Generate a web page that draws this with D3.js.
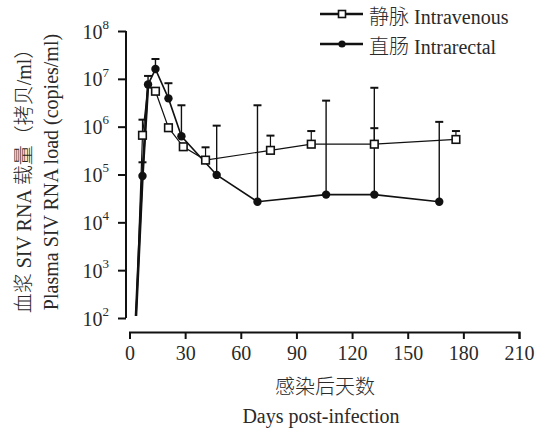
<!DOCTYPE html>
<html>
<head>
<meta charset="utf-8">
<script src="https://cdn.jsdelivr.net/npm/d3@7"></script>
<style>
  body { margin: 0; background: #fff; }
  svg text { font-family: "Liberation Serif", serif; fill: #2a2a2a; }
  svg tspan.cjk { font-family: "Noto Sans CJK SC", sans-serif; font-weight: 300; }
</style>
</head>
<body>
<svg id="chart" width="545" height="428"></svg>
<script>
// days post-infection and plasma viral load (copies/ml)
const ivDays  = [3.5, 7, 10, 14, 21, 29, 41, 76, 98, 132, 176];
const ivLoad  = [110, 6.6e5, 7e6, 5.5e6, 9.5e5, 3.8e5, 2.0e5, 3.2e5, 4.3e5, 4.3e5, 5.4e5];
const ivUpper = [null, 1.4e6, null, null, null, null, 3.7e5, 6.5e5, 8.1e5, 9.3e5, 8.1e5];

const irDays  = [3.5, 7, 10, 14, 21, 28, 47, 69, 106, 132, 167];
const irLoad  = [110, 9.3e4, 7.6e6, 1.6e7, 3.9e6, 6.3e5, 9.8e4, 2.7e4, 3.8e4, 3.8e4, 2.7e4];
const irUpper = [null, 1.8e5, 1.15e7, 2.6e7, 8.1e6, 2.8e6, 1.05e6, 2.8e6, 3.5e6, 6.5e6, 1.26e6];

const xTicks = [0, 30, 60, 90, 120, 150, 180, 210];
const yTicks = [1e2, 1e3, 1e4, 1e5, 1e6, 1e7, 1e8];

const svg = d3.select('#chart');
const x = d3.scaleLinear().domain([0, 210]).range([129.5, 519]);
const y = d3.scaleLog().domain([1e2, 1e8]).range([318, 31]);

const ink = '#111';

// put chinese and latin runs in separate tspans so each gets its own font
function mixedText(sel, str) {
  const runs = str.match(/[\u3000-\u9fff\uff00-\uffef]+|[^\u3000-\u9fff\uff00-\uffef]+/g);
  runs.forEach(r => {
    const t = sel.append('tspan').text(r);
    if (/[\u3000-\u9fff\uff00-\uffef]/.test(r)) t.attr('class', 'cjk');
  });
  return sel;
}

// x axis (detached, below)
const xAxis = d3.axisBottom(x).tickValues(xTicks).tickSize(7).tickPadding(7);
const gx = svg.append('g').attr('transform', 'translate(0,332)').call(xAxis);
gx.attr('font-family', null);
gx.select('.domain').attr('stroke', ink).attr('stroke-width', 2);
gx.selectAll('.tick line').attr('stroke', ink).attr('stroke-width', 2);
gx.selectAll('.tick text').attr('font-size', 20).attr('fill', null);

// y axis
const yAxis = d3.axisLeft(y).tickValues(yTicks).tickSize(8).tickPadding(8).tickFormat('');
const gy = svg.append('g').attr('transform', 'translate(126,0)').call(yAxis);
gy.attr('font-family', null);
gy.select('.domain').attr('stroke', ink).attr('stroke-width', 2).attr('d', 'M0,' + y(1e8) + 'V' + y(1e2));
gy.selectAll('.tick line').attr('stroke', ink).attr('stroke-width', 2);
gy.selectAll('.tick').each(function(d) {
  const t = d3.select(this).append('text')
    .attr('x', -17).attr('dy', '0.35em').attr('text-anchor', 'end')
    .attr('font-size', 20);
  t.append('tspan').text('10');
  t.append('tspan').attr('font-size', 13).attr('dy', '-0.75em').text(Math.round(Math.log10(d)));
});

// axis titles
mixedText(svg.append('text').attr('transform', 'translate(31,176) rotate(-90)')
  .attr('text-anchor', 'middle').attr('font-size', 20), '血浆 SIV RNA 载量（拷贝/ml）');
mixedText(svg.append('text').attr('transform', 'translate(58,172) rotate(-90)')
  .attr('text-anchor', 'middle').attr('font-size', 20), 'Plasma SIV RNA load (copies/ml)');
mixedText(svg.append('text').attr('x', 325).attr('y', 394).attr('text-anchor', 'middle')
  .attr('font-size', 20), '感染后天数');
mixedText(svg.append('text').attr('x', 321).attr('y', 423).attr('text-anchor', 'middle')
  .attr('font-size', 20), 'Days post-infection');

function series(days, load, upper) {
  return days.map((d, i) => ({day: d, v: load[i], up: upper[i]}));
}
const iv = series(ivDays, ivLoad, ivUpper);
const ir = series(irDays, irLoad, irUpper);

// error bars (upper only)
function errorBars(data, cls, w) {
  const g = svg.append('g').attr('class', cls);
  const e = data.filter(d => d.up != null);
  g.selectAll('line.v').data(e).join('line').attr('class', 'v')
    .attr('x1', d => x(d.day)).attr('x2', d => x(d.day))
    .attr('y1', d => y(d.v)).attr('y2', d => y(d.up))
    .attr('stroke', ink).attr('stroke-width', w);
  g.selectAll('line.c').data(e).join('line').attr('class', 'c')
    .attr('x1', d => x(d.day) - 4).attr('x2', d => x(d.day) + 4)
    .attr('y1', d => y(d.up)).attr('y2', d => y(d.up))
    .attr('stroke', ink).attr('stroke-width', 2);
}
errorBars(iv, 'err-iv', 1.2);
errorBars(ir, 'err-ir', 1.4);

const line = d3.line().x(d => x(d.day)).y(d => y(d.v));

svg.append('path').datum(iv).attr('d', line)
  .attr('fill', 'none').attr('stroke', ink).attr('stroke-width', 1.2);
svg.append('path').datum(ir).attr('d', line)
  .attr('fill', 'none').attr('stroke', ink).attr('stroke-width', 1.6);
// thick early rise
svg.append('path').datum(ir.slice(0, 3)).attr('d', line)
  .attr('fill', 'none').attr('stroke', ink).attr('stroke-width', 2.6);

// markers
svg.selectAll('circle.ir').data(ir.slice(1)).join('circle').attr('class', 'ir')
  .attr('cx', d => x(d.day)).attr('cy', d => y(d.v)).attr('r', 4.2).attr('fill', ink);
svg.selectAll('rect.iv').data(iv.slice(1).filter(d => d.day !== 10)).join('rect').attr('class', 'iv')
  .attr('x', d => x(d.day) - 3.8).attr('y', d => y(d.v) - 3.8)
  .attr('width', 7.6).attr('height', 7.6)
  .attr('fill', '#fff').attr('stroke', ink).attr('stroke-width', 1.6);

// legend
const legend = svg.append('g');
const items = [
  {label: '静脉 Intravenous', marker: 'square', y: 14},
  {label: '直肠 Intrarectal', marker: 'circle', y: 44}
];
items.forEach(it => {
  legend.append('line').attr('x1', 320).attr('x2', 363).attr('y1', it.y).attr('y2', it.y)
    .attr('stroke', ink).attr('stroke-width', 2.6);
  if (it.marker === 'square') {
    legend.append('rect').attr('x', 338.5).attr('y', it.y - 3.5).attr('width', 7).attr('height', 7)
      .attr('fill', '#fff').attr('stroke', ink).attr('stroke-width', 1.6);
  } else {
    legend.append('circle').attr('cx', 342).attr('cy', it.y).attr('r', 3.6).attr('fill', ink);
  }
  mixedText(legend.append('text').attr('x', 369).attr('y', it.y + 2.5).attr('dy', '0.35em')
    .attr('font-size', 20), it.label);
});
</script>
</body>
</html>
